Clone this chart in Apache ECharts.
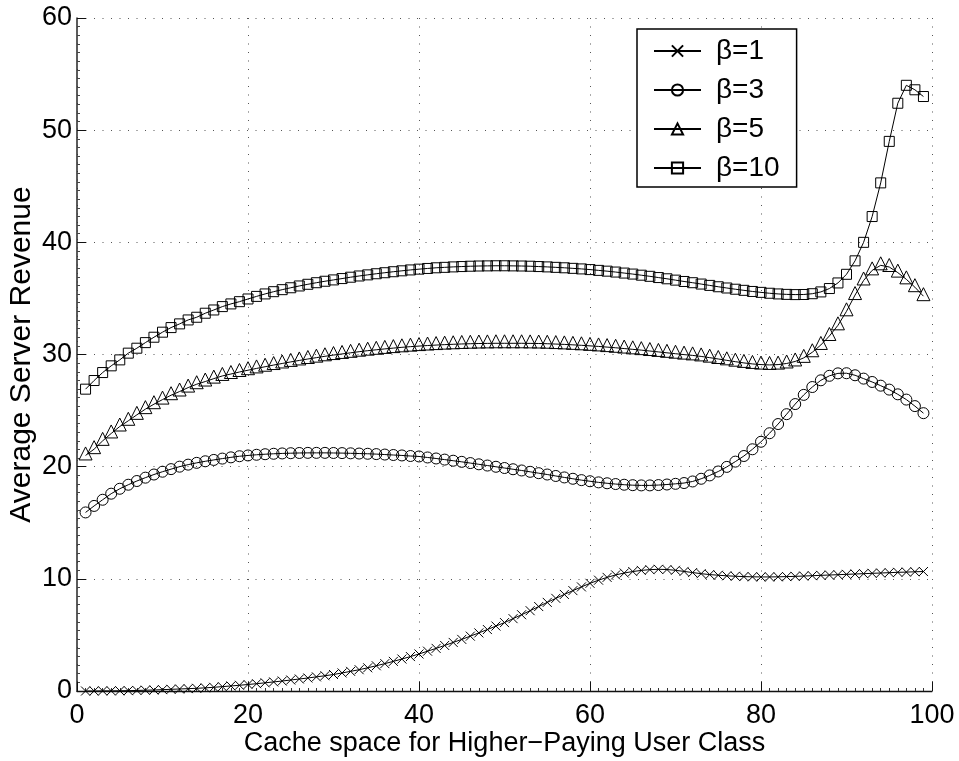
<!DOCTYPE html>
<html>
<head>
<meta charset="utf-8">
<title>Average Server Revenue</title>
<script src="https://cdn.jsdelivr.net/npm/echarts@6/dist/echarts.min.js"></script>
<style>
  html, body { margin: 0; padding: 0; background: #fff; }
  #chart { width: 959px; height: 761px; }
</style>
</head>
<body>
<div id="chart"></div>
<script>
// Cache space allotted to the higher-paying class (x positions of every sample)
const cacheSpace = [
  1, 2, 3, 4, 5, 6, 7, 8, 9, 10, 11, 12, 13, 14, 15, 16, 17, 18, 19, 20,
  21, 22, 23, 24, 25, 26, 27, 28, 29, 30, 31, 32, 33, 34, 35, 36, 37, 38, 39, 40,
  41, 42, 43, 44, 45, 46, 47, 48, 49, 50, 51, 52, 53, 54, 55, 56, 57, 58, 59, 60,
  61, 62, 63, 64, 65, 66, 67, 68, 69, 70, 71, 72, 73, 74, 75, 76, 77, 78, 79, 80,
  81, 82, 83, 84, 85, 86, 87, 88, 89, 90, 91, 92, 93, 94, 95, 96, 97, 98, 99
];

// Average server revenue for each price ratio beta
const revenueBeta1 = [
  0.00, 0.00, 0.01, 0.01, 0.02, 0.03, 0.05, 0.07, 0.09, 0.12,
  0.15, 0.18, 0.21, 0.24, 0.28, 0.33, 0.39, 0.45, 0.51, 0.58,
  0.65, 0.73, 0.81, 0.89, 0.98, 1.07, 1.16, 1.26, 1.36, 1.47,
  1.61, 1.75, 1.90, 2.07, 2.25, 2.44, 2.64, 2.85, 3.07, 3.30,
  3.55, 3.80, 4.06, 4.33, 4.60, 4.89, 5.18, 5.48, 5.79, 6.10,
  6.45, 6.80, 7.16, 7.53, 7.90, 8.26, 8.61, 8.95, 9.28, 9.60,
  9.88, 10.13, 10.35, 10.52, 10.65, 10.75, 10.82, 10.85, 10.83, 10.76,
  10.66, 10.56, 10.46, 10.38, 10.32, 10.27, 10.23, 10.20, 10.18, 10.17,
  10.17, 10.18, 10.20, 10.22, 10.25, 10.28, 10.31, 10.34, 10.37, 10.40,
  10.43, 10.46, 10.49, 10.52, 10.55, 10.58, 10.60, 10.63, 10.65
];

const revenueBeta3 = [
  15.92, 16.50, 17.05, 17.59, 18.03, 18.39, 18.72, 19.02, 19.30, 19.55,
  19.78, 20.00, 20.18, 20.34, 20.48, 20.60, 20.72, 20.83, 20.93, 21.00,
  21.06, 21.11, 21.15, 21.18, 21.20, 21.22, 21.23, 21.23, 21.23, 21.22,
  21.21, 21.19, 21.17, 21.15, 21.12, 21.08, 21.04, 21.00, 20.95, 20.91,
  20.82, 20.73, 20.63, 20.53, 20.43, 20.32, 20.21, 20.10, 19.99, 19.88,
  19.77, 19.66, 19.54, 19.42, 19.30, 19.17, 19.04, 18.92, 18.80, 18.70,
  18.60, 18.52, 18.45, 18.39, 18.35, 18.33, 18.33, 18.36, 18.41, 18.47,
  18.54, 18.68, 18.92, 19.22, 19.57, 19.98, 20.45, 20.95, 21.55, 22.22,
  22.98, 23.80, 24.68, 25.58, 26.40, 27.10, 27.70, 28.10, 28.32, 28.33,
  28.15, 27.85, 27.55, 27.22, 26.87, 26.45, 25.98, 25.40, 24.77
];

const revenueBeta5 = [
  21.00, 21.56, 22.30, 22.96, 23.58, 24.09, 24.62, 25.13, 25.57, 25.98,
  26.37, 26.70, 27.05, 27.35, 27.59, 27.85, 28.09, 28.26, 28.44, 28.60,
  28.76, 28.91, 29.06, 29.20, 29.34, 29.47, 29.60, 29.72, 29.84, 29.95,
  30.05, 30.15, 30.25, 30.34, 30.42, 30.50, 30.57, 30.64, 30.70, 30.75,
  30.80, 30.84, 30.88, 30.91, 30.94, 30.96, 30.98, 30.99, 31.00, 31.00,
  31.00, 31.00, 30.99, 30.98, 30.96, 30.93, 30.90, 30.86, 30.82, 30.77,
  30.72, 30.66, 30.60, 30.53, 30.46, 30.39, 30.31, 30.23, 30.15, 30.07,
  29.99, 29.92, 29.83, 29.72, 29.60, 29.48, 29.36, 29.25, 29.16, 29.10,
  29.07, 29.10, 29.20, 29.38, 29.70, 30.20, 30.85, 31.65, 32.60, 33.85,
  35.30, 36.60, 37.50, 37.95, 37.80, 37.30, 36.70, 36.00, 35.20
];

const revenueBeta10 = [
  26.91, 27.68, 28.39, 28.99, 29.52, 30.12, 30.56, 31.06, 31.54, 31.99,
  32.40, 32.73, 33.08, 33.32, 33.68, 33.97, 34.27, 34.51, 34.71, 34.95,
  35.18, 35.40, 35.60, 35.78, 35.95, 36.11, 36.26, 36.40, 36.53, 36.65,
  36.77, 36.89, 37.00, 37.10, 37.20, 37.29, 37.38, 37.46, 37.54, 37.61,
  37.67, 37.73, 37.77, 37.81, 37.84, 37.87, 37.89, 37.90, 37.91, 37.91,
  37.90, 37.89, 37.87, 37.84, 37.81, 37.77, 37.73, 37.68, 37.63, 37.57,
  37.50, 37.43, 37.35, 37.26, 37.17, 37.07, 36.97, 36.86, 36.75, 36.63,
  36.51, 36.40, 36.28, 36.16, 36.04, 35.93, 35.82, 35.72, 35.62, 35.54,
  35.46, 35.40, 35.36, 35.34, 35.35, 35.42, 35.58, 35.88, 36.38, 37.15,
  38.35, 40.00, 42.30, 45.30, 49.00, 52.40, 54.00, 53.60, 53.00
];

// Legend labels and axis ticks
const seriesNames = ['β=1', 'β=3', 'β=5', 'β=10'];
const xTicks = [0, 20, 40, 60, 80, 100];
const yTicks = [0, 10, 20, 30, 40, 50, 60];

const FONT = '"Liberation Sans", Arial, Helvetica, sans-serif';

function pairs(ys) {
  return cacheSpace.map((x, i) => [x, ys[i]]);
}

const hollow = {
  color: 'rgba(0,0,0,0)',
  borderColor: '#000',
  borderWidth: 1
};

function makeSeries(name, values, symbol, size, offset) {
  return {
    name: name,
    type: 'line',
    data: pairs(values),
    symbol: symbol,
    symbolSize: size,
    symbolOffset: offset || [0, 0],
    showSymbol: true,
    showAllSymbol: true,
    smooth: false,
    lineStyle: { color: '#000', width: 1 },
    itemStyle: hollow,
    emphasis: { disabled: true },
    animation: false
  };
}

const chart = echarts.init(document.getElementById('chart'), null, { renderer: 'canvas' });

const option = {
  backgroundColor: '#fff',
  animation: false,
  grid: { left: 77, right: 27, top: 18, bottom: 70, containLabel: false, outerBoundsMode: 'none' },
  legend: {
    orient: 'vertical',
    left: 637,
    top: 29,
    padding: [8, 17, 5, 16],
    itemGap: 11,
    itemWidth: 47,
    itemHeight: 14,
    backgroundColor: '#fff',
    borderColor: '#000',
    borderWidth: 1.5,
    borderRadius: 0,
    data: seriesNames,
    textStyle: {
      fontFamily: FONT,
      fontSize: 28,
      color: '#000',
      lineHeight: 26,
      padding: [0, 0, 0, 10]
    }
  },
  xAxis: {
    type: 'value',
    min: xTicks[0],
    max: xTicks[xTicks.length - 1],
    interval: xTicks[1] - xTicks[0],
    name: 'Cache space for Higher\u2212Paying User Class',
    nameLocation: 'middle',
    nameGap: 53,
    nameMoveOverlap: false,
    nameTextStyle: { fontFamily: FONT, fontSize: 27, color: '#000', verticalAlign: 'middle' },
    axisLine: { show: true, onZero: false, lineStyle: { color: '#111', width: 1.3 } },
    axisTick: { show: true, inside: true, length: 9, lineStyle: { color: '#111', width: 1 } },
    minorTick: { show: true, splitNumber: 20, length: 3, lineStyle: { color: '#333', width: 1 } },
    axisLabel: { fontFamily: FONT, fontSize: 27, color: '#000', margin: 11 },
    splitLine: { show: true, lineStyle: { color: '#555', width: 1, type: [1, 7.5] } }
  },
  yAxis: {
    type: 'value',
    min: yTicks[0],
    max: yTicks[yTicks.length - 1],
    interval: yTicks[1] - yTicks[0],
    name: 'Average Server Revenue',
    nameLocation: 'middle',
    nameGap: 55,
    nameMoveOverlap: false,
    nameTextStyle: { fontFamily: FONT, fontSize: 30, color: '#000', verticalAlign: 'middle' },
    axisLine: { show: true, onZero: false, lineStyle: { color: '#333', width: 1.6 } },
    axisTick: { show: true, inside: true, length: 9, lineStyle: { color: '#111', width: 1 } },
    minorTick: { show: true, splitNumber: 13, length: 3, lineStyle: { color: '#444', width: 1 } },
    axisLabel: { fontFamily: FONT, fontSize: 27, color: '#000', margin: 5 },
    splitLine: { show: true, lineStyle: { color: '#555', width: 1, type: [1, 7.5] } }
  },
  series: [
    makeSeries(seriesNames[0], revenueBeta1, 'path://M0,0L10,10M10,0L0,10', 9),
    makeSeries(seriesNames[1], revenueBeta3, 'circle', 11),
    makeSeries(seriesNames[2], revenueBeta5, 'triangle', 13, [0, -2]),
    makeSeries(seriesNames[3], revenueBeta10, 'rect', 10)
  ]
};

chart.setOption(option);
</script>
</body>
</html>
